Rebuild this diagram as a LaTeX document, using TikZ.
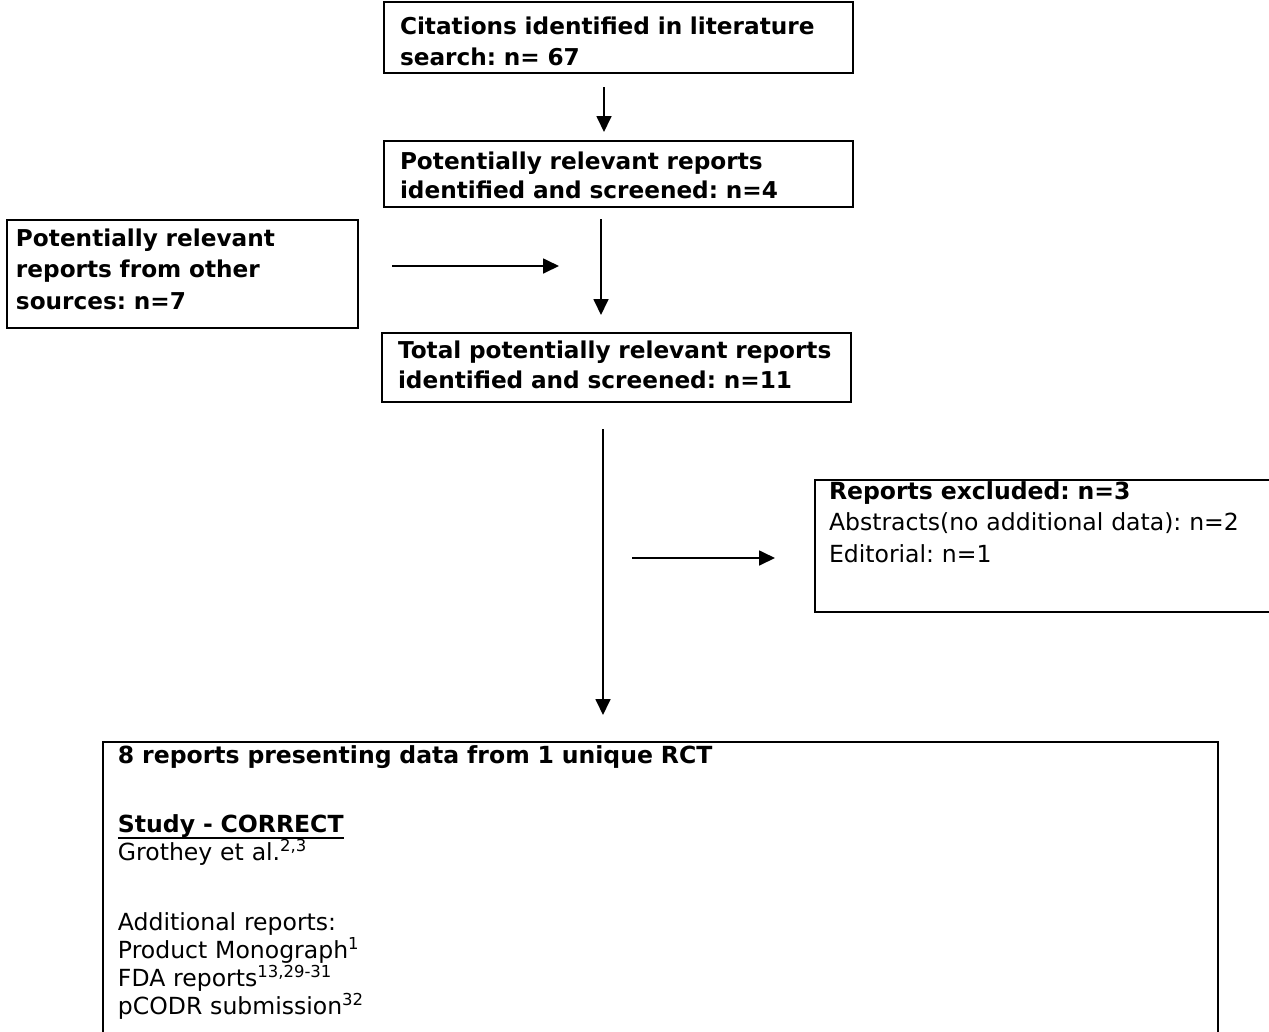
\documentclass[tikz,border=0pt]{standalone}
\usepackage{fontspec}
\setmainfont{DejaVu Sans}
\usepackage{tikz}
\usetikzlibrary{arrows.meta}
\newcommand\thickul[1]{\leavevmode\setbox0\hbox{#1}\rlap{\rule[-3.2pt]{\wd0}{1.1pt}}\box0}
\frenchspacing

\begin{document}
\begin{tikzpicture}[x=0.02cm,y=-0.02cm,
box/.style={draw,line width=1.3pt,anchor=north west,align=left,
  inner ysep=0pt,outer sep=0pt},
arr/.style={line width=1pt,-{Triangle[length=0.32cm,width=0.3cm]}}]
\useasboundingbox (0,0) rectangle (1269,1032);

\node[box,inner xsep=0.32cm,text width=8.74cm,text height=0.66cm,text depth=0.76cm,
  font=\fontsize{13.2}{17.6}\selectfont\bfseries] (cit) at (384,2)
  {Citations identified in literature\\search: n= 67};
\node[box,inner xsep=0.32cm,text width=8.74cm,text height=0.56cm,text depth=0.76cm,
  font=\fontsize{13.2}{16.6}\selectfont\bfseries] (pot) at (384,141)
  {Potentially relevant reports\\identified and screened: n=4};
\node[box,inner xsep=0.18cm,text width=6.66cm,text height=0.52cm,text depth=1.64cm,
  font=\fontsize{13.2}{18.2}\selectfont\bfseries] (other) at (7,220)
  {Potentially relevant\\reports from other\\sources: n=7};
\node[box,inner xsep=0.32cm,text width=8.74cm,text height=0.5cm,text depth=0.88cm,
  font=\fontsize{13.2}{17.6}\selectfont\bfseries] (total) at (382,333)
  {Total potentially relevant reports\\identified and screened: n=11};
\node[box,inner xsep=0.28cm,text width=9.14cm,text height=0.38cm,text depth=2.26cm,
  font=\fontsize{13.4}{18.2}\selectfont] (excl) at (815,480)
  {\textbf{Reports excluded: n=3}\\Abstracts(no additional data): n=2\\Editorial: n=1};
\node[box,inner xsep=0.3cm,text width=21.7cm,text height=0.42cm,text depth=5.94cm,
  font=\fontsize{13.4}{15.9}\selectfont] (incl) at (103,742)
  {\textbf{8 reports presenting data from 1 unique RCT}\\[0.84cm]
   \thickul{\textbf{Study - CORRECT}}\\
   Grothey et al.\textsuperscript{2,3}\\[0.84cm]
   Additional reports:\\
   Product Monograph\textsuperscript{1}\\
   FDA reports\textsuperscript{13,29-31}\\
   pCODR submission\textsuperscript{32}};

\coordinate (a1s) at (604,87);
\coordinate (a1e) at (604,132);
\coordinate (a2s) at (601,219);
\coordinate (a2e) at (601,315);
\coordinate (h1s) at (392,266);
\coordinate (h1e) at (559,266);
\coordinate (a3s) at (603,429);
\coordinate (a3e) at (603,715);
\coordinate (h2s) at (632,558);
\coordinate (h2e) at (775,558);

\draw[arr] (a1s)--(a1e);
\draw[arr] (a2s)--(a2e);
\draw[arr] (h1s)--(h1e);
\draw[arr] (a3s)--(a3e);
\draw[arr] (h2s)--(h2e);
\end{tikzpicture}
\end{document}
